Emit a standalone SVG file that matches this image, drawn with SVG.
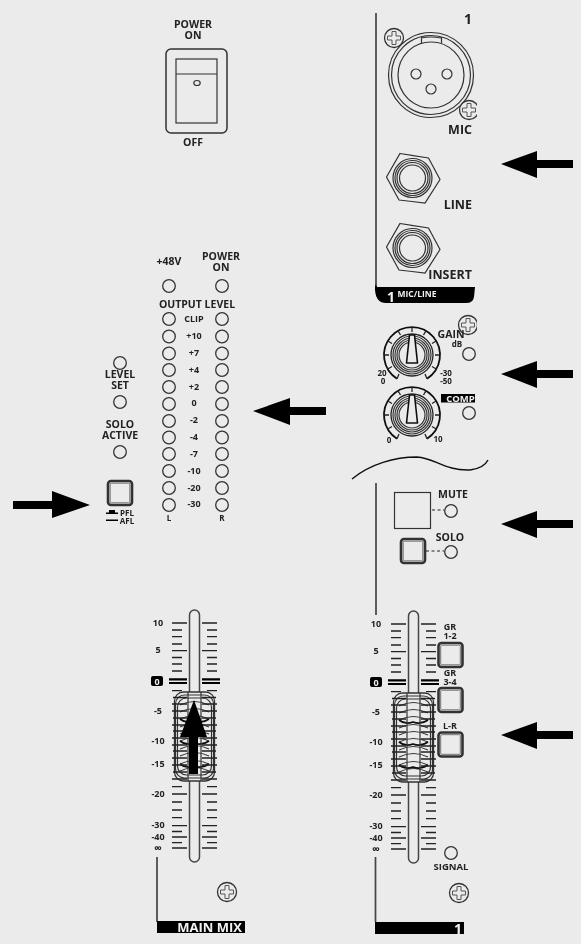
<svg xmlns="http://www.w3.org/2000/svg" width="581" height="944" viewBox="0 0 581 944">
<style>
text{font-family:"Open Sans","Noto Sans","Liberation Sans",sans-serif;font-weight:700;fill:#222;text-anchor:middle;font-size:10.500px}
.l{font-size:12.500px}.s{font-size:9px}.xs{font-size:8px}.w{fill:#f2f2f2;font-weight:700}.r{text-anchor:end}
.o{fill:none;stroke:#333;stroke-width:1.2}
.t{fill:none;stroke:#222;stroke-width:1.3}
.th{fill:none;stroke:#111;stroke-width:1.8}
.g{fill:none;stroke:#444;stroke-width:1.7}
.bg{fill:#ebebeb;stroke:#333;stroke-width:1.3}
.k{fill:#000}
</style>
<defs>
<filter id="soft" x="0" y="0" width="100%" height="100%"><feGaussianBlur stdDeviation="0.45"/></filter>
<clipPath id="cut"><rect x="0" y="0" width="477" height="944"/></clipPath>
<circle id="led" r="6.3" class="bg"/>
<g id="screw"><circle r="9.5" class="bg"/><path fill="none" stroke="#555" stroke-width="1" d="M-2-6.500H2V-2H6.500V2H2V6.500H-2V2H-6.500V-2H-2Z"/></g>
<g id="jack"><polygon class="o" points="0,-24.500 28.500,-20 40,1.500 25,25 -1,22 -13.500,-1" transform="translate(-12.500,0)"/><circle r="19.500" class="o"/><circle r="17.500" class="o"/><circle r="15.500" class="o"/><circle r="13" class="o"/></g>
<g id="btn"><rect x="-12" y="-12" width="24" height="24" rx="3" fill="none" stroke="#333" stroke-width="2.600"/><rect x="-9.800" y="-9.800" width="19.600" height="19.600" rx="1" fill="none" stroke="#666" stroke-width=".9"/></g>
<g id="knob">
<path class="th" d="M-15 23.700A28 28 0 1 1 15 23.700"/>
<path class="t" d="M-15 23.700L-13 19M15 23.700L13 19M0-28V-23M-14-24.200L-11.500-20M-24.200-14L-20-11.500M-28 0H-23M-24.200 14L-20 11.500M14-24.200L11.500-20M24.200-14L20-11.500M28 0H23M24.200 14L20 11.500"/>
<circle r="21" class="t"/><circle r="19" class="o"/><circle r="17" class="o"/><circle r="15" class="o"/><circle r="13" class="o"/>
<path d="M-2.500-20H2.500L5.500 8H-5.500Z" fill="#ebebeb" stroke="#111" stroke-width="1.600" stroke-linejoin="round"/>
</g>
<g id="fader">
<rect x="189.500" y="610" width="10" height="252" rx="5" fill="#ebebeb" stroke="#444" stroke-width="1.500"/>
<rect x="174.500" y="692" width="40" height="89" rx="9" class="bg"/>
<rect x="175.500" y="695" width="38" height="83" rx="9" class="o"/>
<rect x="177.500" y="698" width="34" height="77" rx="9" class="o"/>
<path class="o" d="M180 705Q194.500 698 209 705M180 712Q194.500 705 209 712M180 719Q194.500 712 209 719M180 727Q194.500 720 209 727M180 734Q194.500 727 209 734M180 741Q194.500 734 209 741M180 749Q194.500 742 209 749M180 756Q194.500 749 209 756M180 764Q194.500 757 209 764M180 771Q194.500 764 209 771"/>
<path class="th" d="M180 719Q186 724 194 721Q202 724 209 719M180 741Q186 746 194 743Q202 746 209 741M180 764Q186 769 194 766Q202 769 209 764"/>
<path class="o" d="M188 692V781M201 692V781"/>
<path class="t" d="M172 623H187M202 623H217M172 650.700H187M202 650.700H217M172 794H187M202 794H217M172 825.700H187M202 825.700H217M172 837H187M202 837H217M172 848H187M202 848H217M172 779H187M202 779H217M172 630H182M207 630H217M172 636.700H182M207 636.700H217M172 644H182M207 644H217M172 657.500H182M207 657.500H217M172 664H182M207 664H217M172 671H182M207 671H217M172 690.700H182M207 690.700H217M172 786.700H182M207 786.700H217M172 802H182M207 802H217M172 810H182M207 810H217M172 817.700H182M207 817.700H217M172 831.500H182M207 831.500H217M172 842.700H182M207 842.700H217"/>
<path class="t" d="M173 697.500H187M202 697.500H216M172 704H187M202 704H217M172 711H187M202 711H217M173 718H187M202 718H216M172 725H187M202 725H217M173 731H187M202 731H216M172 738H187M202 738H217M172 745H187M202 745H217M173 751H187M202 751H216M172 758H187M202 758H217M172 765H187M202 765H217M173 772H187M202 772H216"/>
<path d="M169 679.300H187M202 679.300H220M169 683H187M202 683H220" fill="none" stroke="#000" stroke-width="2.200"/>
</g>
</defs>
<rect width="581" height="944" fill="#ebebeb"/>
<g filter="url(#soft)">

<g id="power-switch">
<text x="193" y="28">POWER<tspan x="193" dy="11">ON</tspan></text>
<rect x="166" y="49" width="61" height="84" rx="5" fill="none" stroke="#333" stroke-width="1.500"/>
<rect x="176" y="59" width="41" height="64" class="o"/>
<path class="o" d="M176 74H217"/>
<ellipse cx="197" cy="83" rx="3.200" ry="2.500" class="o"/>
<text x="193" y="146">OFF</text>
</g>

<g id="mic-input">
<path d="M375 13V282Q375 287 381 287H475L474 297Q473 303 466 303H386Q376 303 375 290Z" fill="#000"/>
<path d="M376 13V286" class="g"/>
<rect x="377" y="13" width="110" height="274" fill="#ebebeb"/>
<text x="468" y="24" style="font-size:14px">1</text>
<circle cx="431" cy="75" r="42.500" class="o" stroke-width="1.500"/>
<circle cx="431" cy="75" r="39.500" class="o"/>
<circle cx="431" cy="75" r="33" class="o"/>
<path class="o" d="M421.500 37V43M441.500 37V43M421 38Q431 36 441 38"/>
<circle cx="416" cy="74" r="5" class="o"/><circle cx="447" cy="74" r="5" class="o"/><circle cx="431" cy="89" r="5" class="o"/>
<use href="#screw" x="394" y="38"/>
<g clip-path="url(#cut)"><use href="#screw" x="469" y="110"/></g>
<text x="472" y="134" class="r l">MIC</text>
<use href="#jack" x="412.500" y="178"/>
<text x="472" y="209" class="r l">LINE</text>
<use href="#jack" x="412.500" y="248"/>
<text x="472" y="279" class="r l">INSERT</text>
<text x="391" y="302" class="w" style="font-size:14px">1</text>
<text x="417" y="297" class="w" style="font-size:8.500px">MIC/LINE</text>
</g>

<g id="gain-comp">
<g clip-path="url(#cut)"><use href="#screw" x="468" y="325"/></g>
<use href="#knob" x="412" y="355"/>
<text x="451" y="338">GAIN</text><text x="457" y="347" class="xs">dB</text>
<use href="#led" x="469" y="354"/>
<text x="382" y="376" class="xs">20<tspan x="383" dy="8">0</tspan></text>
<text x="446" y="376" class="xs">-30<tspan x="446" dy="8">-50</tspan></text>
<use href="#knob" x="412" y="415"/>
<rect x="441" y="394" width="34" height="8.500" class="k"/>
<text x="460.500" y="401.500" class="w" style="font-size:9.500px">COMP</text>
<use href="#led" x="469" y="413"/>
<text x="389" y="443" class="xs">0</text><text x="438" y="442" class="xs">10</text>
</g>

<path id="break" d="M352 479C370 464 395 457 417 457C435 458 445 471 470 470C478 469 485 466 488 460" fill="none" stroke="#111" stroke-width="1.400"/>

<g id="mute-solo">
<rect x="394.500" y="492.500" width="36" height="36" class="o" stroke-width="1.500"/>
<text x="453" y="498">MUTE</text>
<use href="#led" x="451" y="511"/>
<use href="#btn" x="413" y="551"/>
<text x="450" y="541">SOLO</text>
<use href="#led" x="451" y="552"/>
</g>

<g id="meter">
<text x="169" y="265">+48V</text>
<text x="221" y="260">POWER<tspan x="221" dy="11">ON</tspan></text>
<use href="#led" x="169" y="286"/><use href="#led" x="222" y="286"/>
<text x="197" y="308">OUTPUT LEVEL</text>
<use href="#led" x="169" y="319"/><use href="#led" x="222" y="319"/><text x="194" y="322" class="s">CLIP</text>
<use href="#led" x="169" y="336.500"/><use href="#led" x="222" y="336.500"/><text x="194" y="339" class="s">+10</text>
<use href="#led" x="169" y="353.500"/><use href="#led" x="222" y="353.500"/><text x="194" y="356" class="s">+7</text>
<use href="#led" x="169" y="370"/><use href="#led" x="222" y="370"/><text x="194" y="373" class="s">+4</text>
<use href="#led" x="169" y="387"/><use href="#led" x="222" y="387"/><text x="194" y="390" class="s">+2</text>
<use href="#led" x="169" y="404"/><use href="#led" x="222" y="404"/><text x="194" y="406" class="s">0</text>
<use href="#led" x="169" y="421"/><use href="#led" x="222" y="421"/><text x="194" y="423" class="s">-2</text>
<use href="#led" x="169" y="437.500"/><use href="#led" x="222" y="437.500"/><text x="194" y="440" class="s">-4</text>
<use href="#led" x="169" y="454"/><use href="#led" x="222" y="454"/><text x="194" y="457" class="s">-7</text>
<use href="#led" x="169" y="471"/><use href="#led" x="222" y="471"/><text x="194" y="474" class="s">-10</text>
<use href="#led" x="169" y="488"/><use href="#led" x="222" y="488"/><text x="194" y="491" class="s">-20</text>
<use href="#led" x="169" y="505"/><use href="#led" x="222" y="505"/><text x="194" y="507" class="s">-30</text>
<text x="169" y="521" class="xs">L</text><text x="222" y="521" class="xs">R</text>
</g>

<g id="level-solo">
<use href="#led" x="120" y="363"/>
<text x="120" y="378">LEVEL<tspan x="120" dy="11">SET</tspan></text>
<use href="#led" x="120" y="402"/>
<text x="120" y="428">SOLO<tspan x="120" dy="11">ACTIVE</tspan></text>
<use href="#led" x="120" y="452"/>
</g>

<g id="pfl-afl">
<use href="#btn" x="120" y="493"/>
<path class="k" d="M106 514H118V512.500H115V510H109V512.500H106ZM106 521H118V519.500H106Z"/>
<text x="127" y="516" class="xs">PFL<tspan x="127" dy="8">AFL</tspan></text>
</g>

<g id="main-fader">
<use href="#fader"/>
<text x="158" y="626" class="s">10</text><text x="158" y="653" class="s">5</text>
<rect x="151" y="676" width="12" height="10" rx="2" class="k"/><text x="157" y="684.500" class="w s">0</text>
<text x="158" y="714" class="s">-5</text><text x="158" y="744" class="s">-10</text><text x="158" y="767" class="s">-15</text><text x="158" y="797" class="s">-20</text><text x="158" y="828" class="s">-30</text><text x="158" y="840" class="s">-40</text><text x="158" y="852" style="font-size:11px">∞</text>
<path class="g" d="M157 857V922"/>
<use href="#screw" x="227" y="892"/>
<rect x="157" y="921" width="88" height="12" class="k"/>
<text x="242" y="932" class="w r" style="font-size:13px">MAIN MIX</text>
</g>

<g id="channel-fader">
<path class="g" d="M376 483V615"/>
<use href="#fader" x="219" y="1"/>
<text x="376" y="627" class="s">10</text><text x="376" y="654" class="s">5</text>
<rect x="370" y="677" width="12" height="10" rx="2" class="k"/><text x="376" y="685.500" class="w s">0</text>
<text x="376" y="715" class="s">-5</text><text x="376" y="745" class="s">-10</text><text x="376" y="768" class="s">-15</text><text x="376" y="798" class="s">-20</text><text x="376" y="829" class="s">-30</text><text x="376" y="841" class="s">-40</text><text x="376" y="853" style="font-size:11px">∞</text>
<text x="450" y="630" class="s">GR<tspan x="450" dy="9">1-2</tspan></text>
<use href="#btn" x="450.500" y="655"/>
<text x="450" y="676" class="s">GR<tspan x="450" dy="9">3-4</tspan></text>
<use href="#btn" x="450.500" y="700"/>
<text x="450" y="729" class="s">L-R</text>
<use href="#btn" x="450.500" y="744.500"/>
<use href="#led" x="451" y="853"/>
<text x="451" y="870" style="font-size:9.500px">SIGNAL</text>
<use href="#screw" x="459" y="893"/>
<path class="g" d="M375.500 857V922"/>
<rect x="375" y="922" width="89" height="12" class="k"/>
<text x="458" y="933.500" class="w" style="font-size:14px">1</text>
</g>

<g id="connectors">
<path fill="none" stroke="#222" stroke-width="1.200" stroke-dasharray="3 2.500" d="M432 510H444M426 551H444"/>
<g class="k">
<polygon points="501,164 537,151 537,160 573,160 573,168 537,168 537,178"/>
<polygon points="501,374 537,361 537,370 573,370 573,378 537,378 537,388"/>
<polygon points="501,524 537,511 537,520 573,520 573,528 537,528 537,538"/>
<polygon points="501,735 537,722 537,731 573,731 573,739 537,739 537,749"/>
<polygon points="253,411 290,398 290,407 326,407 326,415 290,415 290,425"/>
<polygon points="90,505 52,491 52,501 13,501 13,509 52,509 52,518"/>
<polygon points="194,700 207,737 198,737 198,774 189,774 189,737 180,737"/>
</g>
</g>
</g>
</svg>
